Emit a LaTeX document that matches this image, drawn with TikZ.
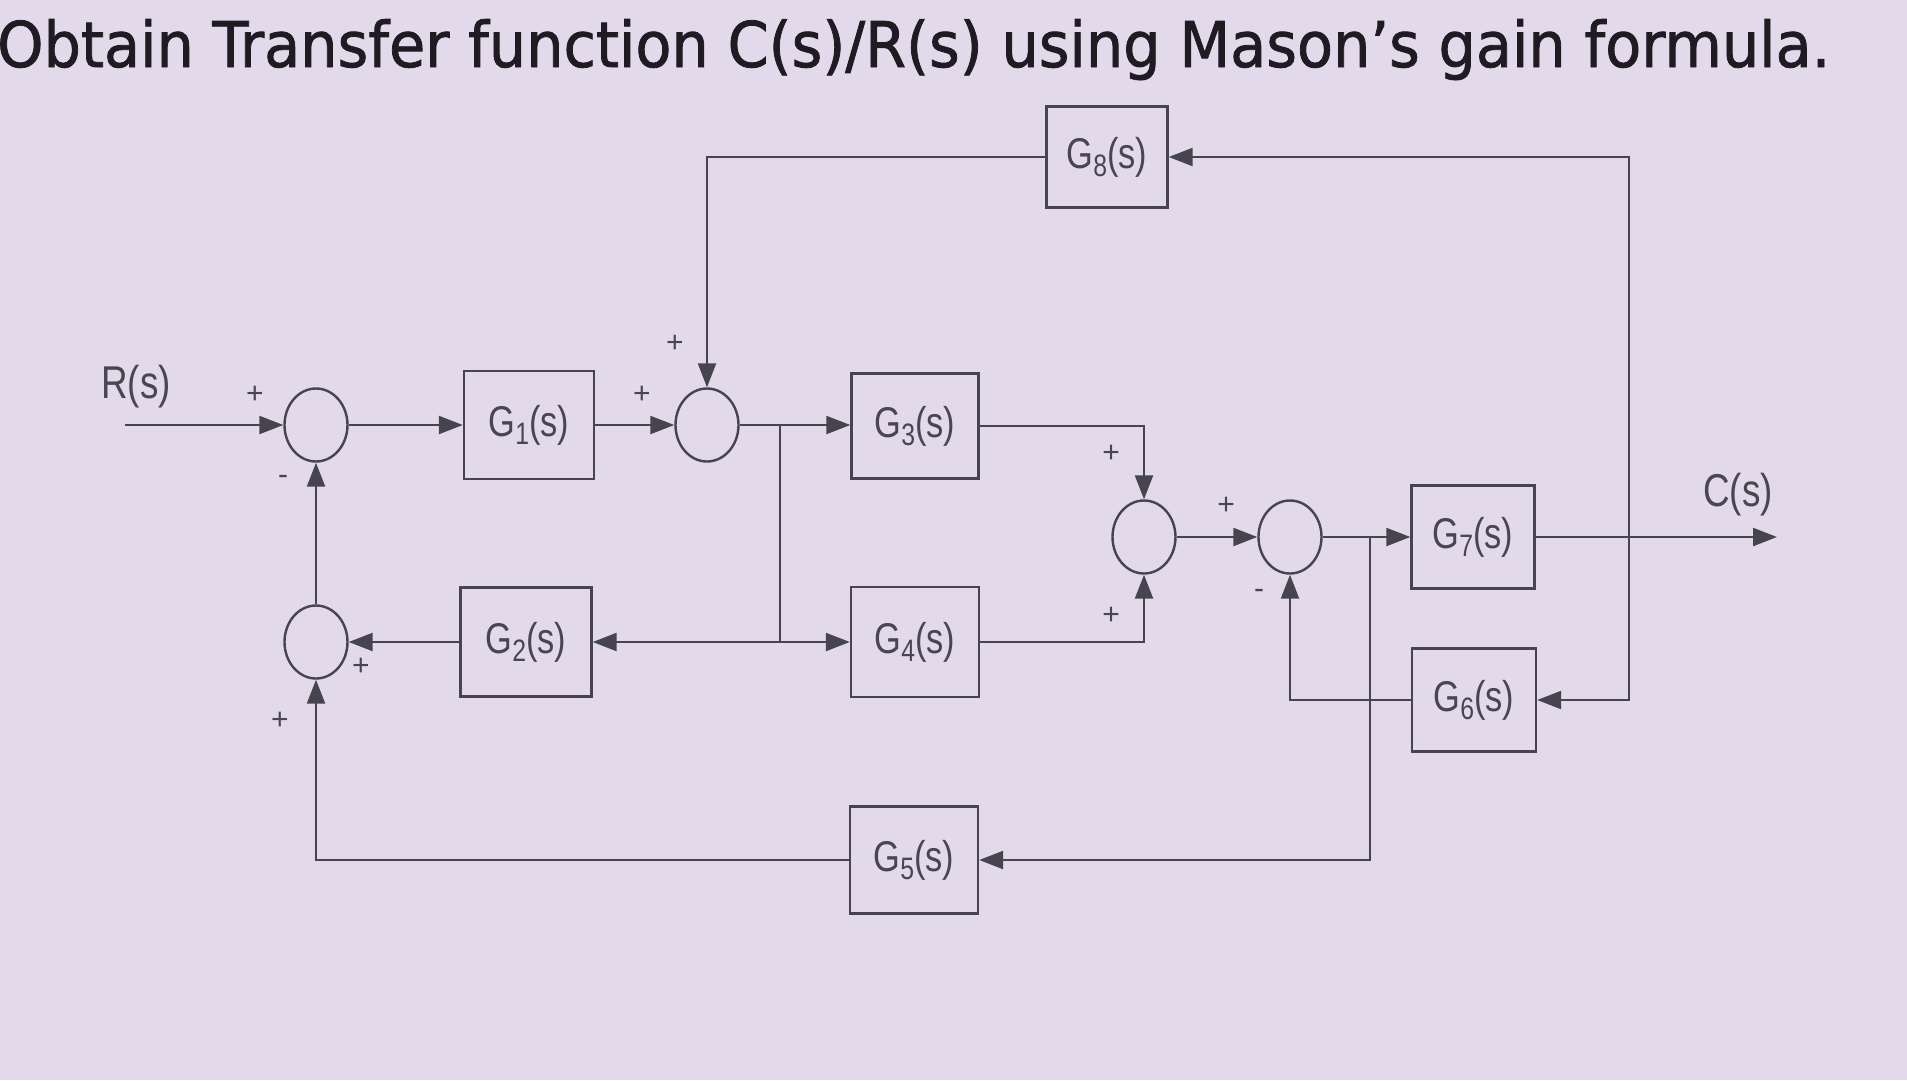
\documentclass[tikz,border=0pt]{standalone}
\usepackage{fontspec}
\usepackage{graphicx}
\setmainfont{Liberation Sans}
\newfontfamily\titlefont[FakeBold=1.3]{DejaVu Sans}
\usetikzlibrary{arrows.meta,shapes.geometric}
\definecolor{bgc}{RGB}{226,218,234}
\definecolor{ln}{RGB}{70,68,78}
\definecolor{tx}{RGB}{72,70,80}
\definecolor{ttl}{RGB}{30,28,34}
\newcommand{\sq}[1]{\scalebox{0.8}[1]{#1}}
\newcommand{\Gs}[1]{\sq{G\raisebox{-0.2em}{\fontsize{31}{31}\selectfont #1}(s)}}
\begin{document}
\begin{tikzpicture}[x=1pt,y=-1pt,
  blk/.style={draw=ln,line width=2.4pt,minimum width=128pt,minimum height=106pt,inner sep=0pt,text=tx,font=\fontsize{43}{48}\selectfont},
  sumj/.style={draw=ln,line width=2.4pt,ellipse,minimum width=63pt,minimum height=73pt,inner sep=0pt},
  wire/.style={draw=ln,line width=2.3pt},
  arr/.style={wire,-{Triangle[length=24pt,width=18pt]}},
  sgn/.style={text=tx,font=\fontsize{30}{30}\selectfont,inner sep=0pt},
  lbl/.style={text=tx,font=\fontsize{46}{50}\selectfont,inner sep=0pt}
]
\useasboundingbox (0,0) rectangle (1907,1080);
\fill[bgc] (0,0) rectangle (1907,1080);

% title
\node[anchor=base west,inner sep=0pt,text=ttl] (title) at (-3,67)
  {\resizebox{1833pt}{\height}{\titlefont\fontsize{63}{70}\selectfont Obtain Transfer function C(s)/R(s) using Mason’s gain formula.}};

% summing junctions
\node[sumj] (s1) at (316,425) {};
\node[sumj] (s2) at (316,642) {};
\node[sumj] (s3) at (707,425) {};
\node[sumj] (s4) at (1144,537) {};
\node[sumj] (s5) at (1290,537) {};

% blocks
\node[blk,minimum width=130pt,minimum height=108pt] (G1) at (529,425) {\Gs{1}};
\node[blk,minimum width=131pt,minimum height=109pt] (G2) at (526,642) {\Gs{2}};
\node[blk,minimum width=127pt,minimum height=105pt] (G3) at (915,426) {\Gs{3}};
\node[blk,minimum width=128pt,minimum height=110pt] (G4) at (915,642) {\Gs{4}};
\node[blk,minimum width=128pt,minimum height=107pt] (G5) at (914,860) {\Gs{5}};
\node[blk,minimum width=124pt,minimum height=103pt] (G6) at (1474,700) {\Gs{6}};
\node[blk,minimum width=123pt,minimum height=103pt] (G7) at (1473,537) {\Gs{7}};
\node[blk,minimum width=121pt,minimum height=101pt] (G8) at (1107,157) {\Gs{8}};

% signal labels
\node[lbl] (R) at (136,387) {\sq{R(s)}};
\node[lbl] (C) at (1738,495) {\sq{C(s)}};

% coordinates
\coordinate (rin) at (125,425);
\coordinate (b1) at (780,425);
\coordinate (b2) at (780,642);
\coordinate (b3) at (1370,537);
\coordinate (b4) at (1629,537);
\coordinate (cout) at (1777,537);

% connectors
\draw[arr] (rin) -- (s1.west);
\draw[arr] (s1.east) -- (G1.west);
\draw[arr] (G1.east) -- (s3.west);
\draw[arr] (s3.east) -- (s3.east -| G3.west);
\draw[wire] (b1) -- (b2);
\draw[arr] (b2) -- (G4.west);
\draw[arr] (b2) -- (G2.east);
\draw[arr] (G2.west) -- (s2.east);
\draw[arr] (s2.north) -- (s1.south);
\draw[arr] (G5.west) -| (s2.south);
\draw[arr] (G3.east) -| (s4.north);
\draw[arr] (G4.east) -| (s4.south);
\draw[arr] (s4.east) -- (s5.west);
\draw[arr] (s5.east) -- (G7.west);
\draw[arr] (b3) |- (G5.east);
\draw[arr] (G7.east) -- (cout);
\draw[arr] (b4) |- (G8.east);
\draw[arr] (b4) |- (G6.east);
\draw[arr] (G8.west) -| (s3.north);
\draw[arr] (G6.west) -| (s5.south);

% signs
\node[sgn] (p1) at (255,395) {+};
\node[sgn] (m1) at (283,480) {-};
\node[sgn] (p2) at (361,667) {+};
\node[sgn] (p3) at (280,721) {+};
\node[sgn] (p4) at (642,395) {+};
\node[sgn] (p5) at (675,344) {+};
\node[sgn] (p6) at (1111,454) {+};
\node[sgn] (p7) at (1111,616) {+};
\node[sgn] (p8) at (1226,506) {+};
\node[sgn] (m2) at (1259,594) {-};
\end{tikzpicture}
\end{document}
